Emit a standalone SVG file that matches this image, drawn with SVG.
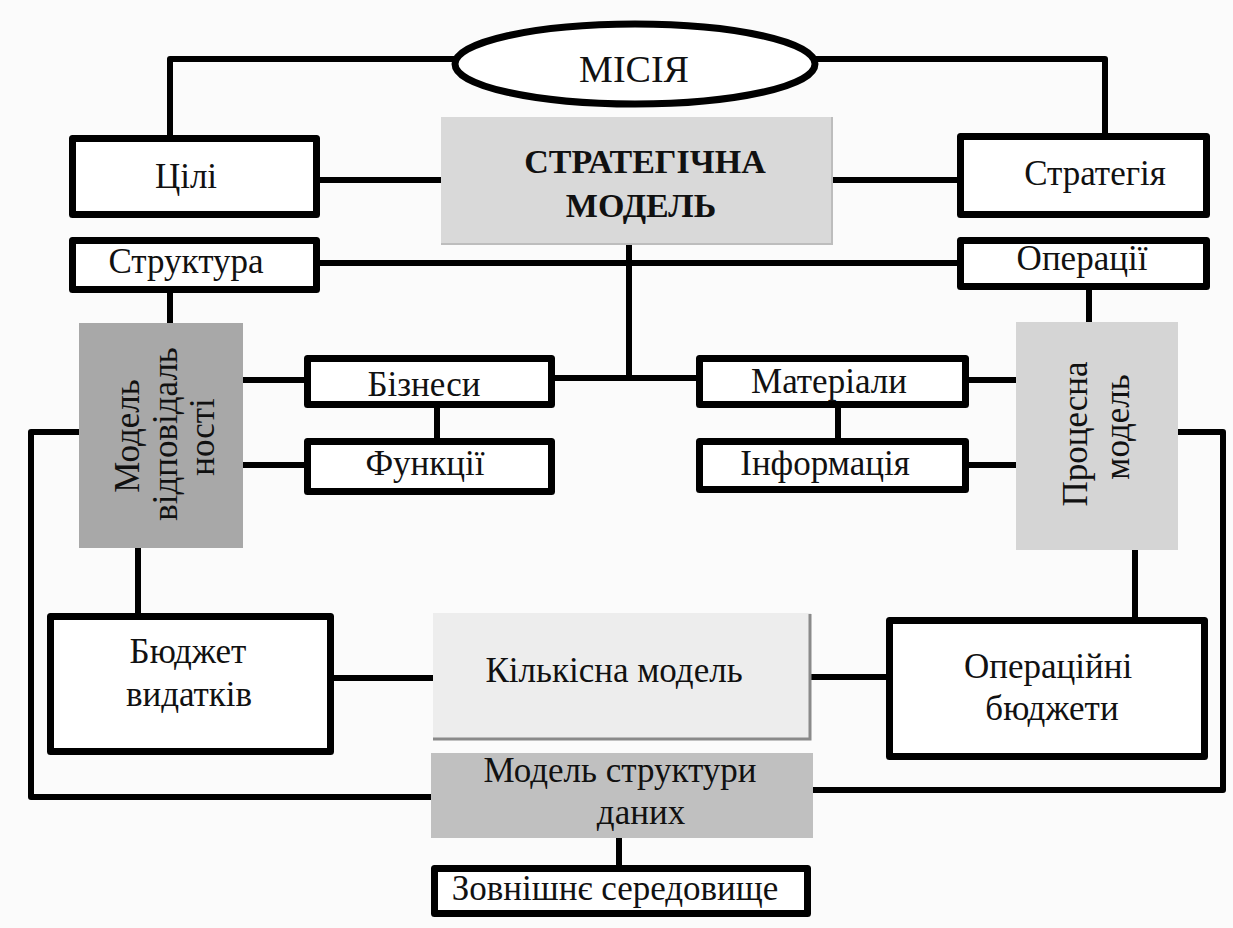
<svg xmlns="http://www.w3.org/2000/svg" width="1233" height="928" viewBox="0 0 1233 928">
<style>
text{font-family:"Liberation Serif","Times New Roman",serif;font-size:35px;fill:#111;text-anchor:middle}
.b{font-weight:bold;font-size:34px}
.box{fill:#fff;stroke:#000;stroke-width:7;stroke-linejoin:round}
.c{fill:none;stroke:#000;stroke-width:6;stroke-linejoin:round}
</style>
<rect width="1233" height="928" fill="#fbfbfb"/>
<g id="connectors" class="c">
<path d="M170,135 V59 H455"/>
<path d="M815,59 H1105 V133"/>
<path d="M320,180 H441"/>
<path d="M832,180 H957"/>
<path d="M320,263 H957"/>
<path d="M629,245 V378"/>
<path d="M555,378 H696"/>
<path d="M170,293 V323"/>
<path d="M1089,290 V322"/>
<path d="M243,380 H304"/>
<path d="M243,465 H304"/>
<path d="M437,408 V438"/>
<path d="M969,380 H1016"/>
<path d="M969,465 H1016"/>
<path d="M838,408 V438"/>
<path d="M79,432 H31 V797 H431"/>
<path d="M1178,432 H1223 V790 H813"/>
<path d="M138,548 V613"/>
<path d="M1135,550 V617"/>
<path d="M334,678 H433"/>
<path d="M811,677 H886"/>
<path d="M619,838 V865"/>
</g>
<g id="mission">
<ellipse cx="635" cy="64" rx="180" ry="40" fill="#fff" stroke="#000" stroke-width="7"/>
<text x="634" y="82" style="font-size:38px">МІСІЯ</text>
</g>
<g id="strategic-model">
<rect x="441" y="117" width="391" height="128" fill="#d9d9d9"/>
<path d="M441,244 H832 V117" fill="none" stroke="#bdbdbd" stroke-width="2"/>
<text class="b" x="645" y="173">СТРАТЕГІЧНА</text>
<text class="b" x="641" y="217">МОДЕЛЬ</text>
</g>
<g id="goals">
<rect class="box" x="72.5" y="138.5" width="244" height="76"/>
<text x="186" y="188">Цілі</text>
</g>
<g id="strategy">
<rect class="box" x="960.5" y="136.5" width="246" height="78"/>
<text x="1095" y="185">Стратегія</text>
</g>
<g id="structure">
<rect class="box" x="72.5" y="240.5" width="244" height="49"/>
<text x="186" y="273">Структура</text>
</g>
<g id="operations">
<rect class="box" x="960.5" y="240.5" width="246" height="46"/>
<text x="1082" y="270">Операції</text>
</g>
<g id="responsibility-model">
<rect x="79" y="323" width="164" height="225" fill="#a8a8a8"/>
<text transform="translate(139,436) rotate(-90)">Модель</text>
<text transform="translate(177,434) rotate(-90)">відповідаль</text>
<text transform="translate(214,437) rotate(-90)">ності</text>
</g>
<g id="process-model">
<rect x="1016" y="322" width="162" height="228" fill="#d5d5d5"/>
<text transform="translate(1087,434) rotate(-90)">Процесна</text>
<text transform="translate(1129,427) rotate(-90)">модель</text>
</g>
<g id="businesses">
<rect class="box" x="307.5" y="358.5" width="244" height="46"/>
<text x="424" y="396">Бізнеси</text>
</g>
<g id="functions">
<rect class="box" x="307.5" y="441.5" width="244" height="50"/>
<text x="425" y="475">Функції</text>
</g>
<g id="materials">
<rect class="box" x="699.5" y="358.5" width="266" height="46"/>
<text x="829" y="393">Матеріали</text>
</g>
<g id="information">
<rect class="box" x="699.5" y="441.5" width="266" height="48"/>
<text x="825" y="475">Інформація</text>
</g>
<g id="expense-budget">
<rect class="box" x="50.5" y="616.5" width="280" height="135"/>
<text x="188" y="663">Бюджет</text>
<text x="189" y="706">видатків</text>
</g>
<g id="quantitative-model">
<rect x="433" y="613" width="378" height="127" fill="#ededed"/>
<path d="M433,739 H810 V614" fill="none" stroke="#8a8a8a" stroke-width="3"/>
<text x="614" y="682">Кількісна модель</text>
</g>
<g id="operational-budgets">
<rect class="box" x="889.5" y="620.5" width="315" height="136"/>
<text x="1048" y="678">Операційні</text>
<text x="1052" y="720">бюджети</text>
</g>
<g id="data-structure-model">
<rect x="431" y="753" width="382" height="85" fill="#c0c0c0"/>
<text x="620" y="782">Модель структури</text>
<text x="641" y="824">даних</text>
</g>
<g id="environment">
<rect class="box" x="434.5" y="868.5" width="373" height="45"/>
<text x="615" y="900">Зовнішнє середовище</text>
</g>
</svg>
